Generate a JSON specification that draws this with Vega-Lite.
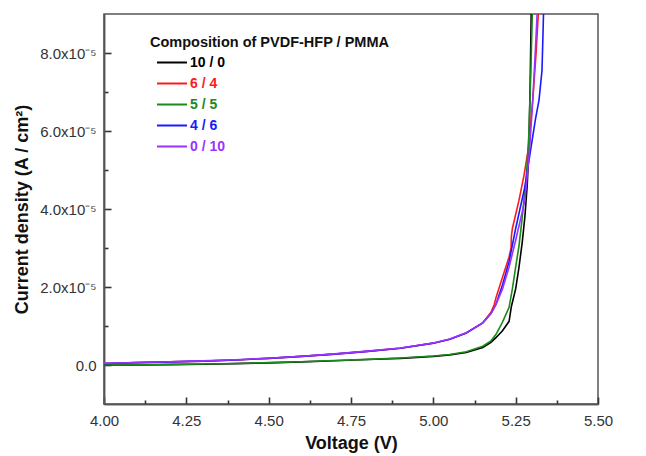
{
  "$schema": "https://vega.github.io/schema/vega-lite/v6.json",
  "width": 494,
  "height": 390,
  "autosize": {"type": "none"},
  "padding": {"left": 104, "top": 14, "right": 48, "bottom": 52},
  "config": {
    "view": {"stroke": "#555555", "strokeWidth": 1.5}
  },
  "data": {"values": [
    {"c": "10 / 0", "V": 4.00, "J": 0.0},
    {"c": "10 / 0", "V": 4.10, "J": 0.0},
    {"c": "10 / 0", "V": 4.20, "J": 0.01e-5},
    {"c": "10 / 0", "V": 4.30, "J": 0.02e-5},
    {"c": "10 / 0", "V": 4.40, "J": 0.035e-5},
    {"c": "10 / 0", "V": 4.50, "J": 0.055e-5},
    {"c": "10 / 0", "V": 4.60, "J": 0.08e-5},
    {"c": "10 / 0", "V": 4.70, "J": 0.11e-5},
    {"c": "10 / 0", "V": 4.80, "J": 0.14e-5},
    {"c": "10 / 0", "V": 4.90, "J": 0.17e-5},
    {"c": "10 / 0", "V": 5.00, "J": 0.22e-5},
    {"c": "10 / 0", "V": 5.05, "J": 0.26e-5},
    {"c": "10 / 0", "V": 5.10, "J": 0.32e-5},
    {"c": "10 / 0", "V": 5.15, "J": 0.45e-5},
    {"c": "10 / 0", "V": 5.175, "J": 0.58e-5},
    {"c": "10 / 0", "V": 5.19, "J": 0.70e-5},
    {"c": "10 / 0", "V": 5.21, "J": 0.88e-5},
    {"c": "10 / 0", "V": 5.23, "J": 1.12e-5},
    {"c": "10 / 0", "V": 5.237, "J": 1.50e-5},
    {"c": "10 / 0", "V": 5.25, "J": 1.95e-5},
    {"c": "10 / 0", "V": 5.26, "J": 2.5e-5},
    {"c": "10 / 0", "V": 5.27, "J": 3.15e-5},
    {"c": "10 / 0", "V": 5.278, "J": 3.8e-5},
    {"c": "10 / 0", "V": 5.285, "J": 4.6e-5},
    {"c": "10 / 0", "V": 5.29, "J": 5.5e-5},
    {"c": "10 / 0", "V": 5.294, "J": 7.2e-5},
    {"c": "10 / 0", "V": 5.298, "J": 9.5e-5},

    {"c": "6 / 4", "V": 4.00, "J": 0.04e-5},
    {"c": "6 / 4", "V": 4.10, "J": 0.06e-5},
    {"c": "6 / 4", "V": 4.20, "J": 0.08e-5},
    {"c": "6 / 4", "V": 4.30, "J": 0.10e-5},
    {"c": "6 / 4", "V": 4.40, "J": 0.13e-5},
    {"c": "6 / 4", "V": 4.50, "J": 0.17e-5},
    {"c": "6 / 4", "V": 4.60, "J": 0.22e-5},
    {"c": "6 / 4", "V": 4.70, "J": 0.28e-5},
    {"c": "6 / 4", "V": 4.80, "J": 0.35e-5},
    {"c": "6 / 4", "V": 4.90, "J": 0.43e-5},
    {"c": "6 / 4", "V": 5.00, "J": 0.56e-5},
    {"c": "6 / 4", "V": 5.05, "J": 0.66e-5},
    {"c": "6 / 4", "V": 5.10, "J": 0.82e-5},
    {"c": "6 / 4", "V": 5.15, "J": 1.08e-5},
    {"c": "6 / 4", "V": 5.175, "J": 1.35e-5},
    {"c": "6 / 4", "V": 5.185, "J": 1.55e-5},
    {"c": "6 / 4", "V": 5.19, "J": 1.72e-5},
    {"c": "6 / 4", "V": 5.21, "J": 2.25e-5},
    {"c": "6 / 4", "V": 5.23, "J": 2.77e-5},
    {"c": "6 / 4", "V": 5.236, "J": 3.0e-5},
    {"c": "6 / 4", "V": 5.237, "J": 3.3e-5},
    {"c": "6 / 4", "V": 5.24, "J": 3.5e-5},
    {"c": "6 / 4", "V": 5.26, "J": 4.22e-5},
    {"c": "6 / 4", "V": 5.275, "J": 4.85e-5},
    {"c": "6 / 4", "V": 5.288, "J": 5.51e-5},
    {"c": "6 / 4", "V": 5.302, "J": 6.8e-5},
    {"c": "6 / 4", "V": 5.312, "J": 8.0e-5},
    {"c": "6 / 4", "V": 5.322, "J": 9.5e-5},

    {"c": "5 / 5", "V": 4.00, "J": 0.0},
    {"c": "5 / 5", "V": 4.10, "J": 0.005e-5},
    {"c": "5 / 5", "V": 4.20, "J": 0.015e-5},
    {"c": "5 / 5", "V": 4.30, "J": 0.025e-5},
    {"c": "5 / 5", "V": 4.40, "J": 0.04e-5},
    {"c": "5 / 5", "V": 4.50, "J": 0.06e-5},
    {"c": "5 / 5", "V": 4.60, "J": 0.085e-5},
    {"c": "5 / 5", "V": 4.70, "J": 0.115e-5},
    {"c": "5 / 5", "V": 4.80, "J": 0.145e-5},
    {"c": "5 / 5", "V": 4.90, "J": 0.18e-5},
    {"c": "5 / 5", "V": 5.00, "J": 0.23e-5},
    {"c": "5 / 5", "V": 5.05, "J": 0.27e-5},
    {"c": "5 / 5", "V": 5.10, "J": 0.34e-5},
    {"c": "5 / 5", "V": 5.15, "J": 0.48e-5},
    {"c": "5 / 5", "V": 5.175, "J": 0.62e-5},
    {"c": "5 / 5", "V": 5.19, "J": 0.78e-5},
    {"c": "5 / 5", "V": 5.21, "J": 1.10e-5},
    {"c": "5 / 5", "V": 5.23, "J": 1.48e-5},
    {"c": "5 / 5", "V": 5.24, "J": 1.95e-5},
    {"c": "5 / 5", "V": 5.25, "J": 2.51e-5},
    {"c": "5 / 5", "V": 5.26, "J": 3.05e-5},
    {"c": "5 / 5", "V": 5.269, "J": 3.71e-5},
    {"c": "5 / 5", "V": 5.283, "J": 4.9e-5},
    {"c": "5 / 5", "V": 5.29, "J": 5.9e-5},
    {"c": "5 / 5", "V": 5.296, "J": 7.5e-5},
    {"c": "5 / 5", "V": 5.302, "J": 9.5e-5},

    {"c": "4 / 6", "V": 4.00, "J": 0.04e-5},
    {"c": "4 / 6", "V": 4.10, "J": 0.06e-5},
    {"c": "4 / 6", "V": 4.20, "J": 0.08e-5},
    {"c": "4 / 6", "V": 4.30, "J": 0.10e-5},
    {"c": "4 / 6", "V": 4.40, "J": 0.13e-5},
    {"c": "4 / 6", "V": 4.50, "J": 0.17e-5},
    {"c": "4 / 6", "V": 4.60, "J": 0.22e-5},
    {"c": "4 / 6", "V": 4.70, "J": 0.28e-5},
    {"c": "4 / 6", "V": 4.80, "J": 0.35e-5},
    {"c": "4 / 6", "V": 4.90, "J": 0.43e-5},
    {"c": "4 / 6", "V": 5.00, "J": 0.56e-5},
    {"c": "4 / 6", "V": 5.05, "J": 0.66e-5},
    {"c": "4 / 6", "V": 5.10, "J": 0.82e-5},
    {"c": "4 / 6", "V": 5.15, "J": 1.08e-5},
    {"c": "4 / 6", "V": 5.175, "J": 1.32e-5},
    {"c": "4 / 6", "V": 5.19, "J": 1.55e-5},
    {"c": "4 / 6", "V": 5.21, "J": 2.05e-5},
    {"c": "4 / 6", "V": 5.23, "J": 2.65e-5},
    {"c": "4 / 6", "V": 5.25, "J": 3.5e-5},
    {"c": "4 / 6", "V": 5.278, "J": 4.57e-5},
    {"c": "4 / 6", "V": 5.297, "J": 5.6e-5},
    {"c": "4 / 6", "V": 5.31, "J": 6.3e-5},
    {"c": "4 / 6", "V": 5.321, "J": 6.8e-5},
    {"c": "4 / 6", "V": 5.33, "J": 7.56e-5},
    {"c": "4 / 6", "V": 5.333, "J": 8.5e-5},
    {"c": "4 / 6", "V": 5.336, "J": 9.5e-5},

    {"c": "0 / 10", "V": 4.00, "J": 0.045e-5},
    {"c": "0 / 10", "V": 4.10, "J": 0.065e-5},
    {"c": "0 / 10", "V": 4.20, "J": 0.085e-5},
    {"c": "0 / 10", "V": 4.30, "J": 0.105e-5},
    {"c": "0 / 10", "V": 4.40, "J": 0.135e-5},
    {"c": "0 / 10", "V": 4.50, "J": 0.175e-5},
    {"c": "0 / 10", "V": 4.60, "J": 0.225e-5},
    {"c": "0 / 10", "V": 4.70, "J": 0.285e-5},
    {"c": "0 / 10", "V": 4.80, "J": 0.355e-5},
    {"c": "0 / 10", "V": 4.90, "J": 0.435e-5},
    {"c": "0 / 10", "V": 5.00, "J": 0.565e-5},
    {"c": "0 / 10", "V": 5.05, "J": 0.665e-5},
    {"c": "0 / 10", "V": 5.10, "J": 0.825e-5},
    {"c": "0 / 10", "V": 5.15, "J": 1.08e-5},
    {"c": "0 / 10", "V": 5.175, "J": 1.32e-5},
    {"c": "0 / 10", "V": 5.19, "J": 1.55e-5},
    {"c": "0 / 10", "V": 5.21, "J": 1.95e-5},
    {"c": "0 / 10", "V": 5.23, "J": 2.51e-5},
    {"c": "0 / 10", "V": 5.25, "J": 3.2e-5},
    {"c": "0 / 10", "V": 5.278, "J": 4.22e-5},
    {"c": "0 / 10", "V": 5.292, "J": 5.5e-5},
    {"c": "0 / 10", "V": 5.302, "J": 6.8e-5},
    {"c": "0 / 10", "V": 5.310, "J": 8.1e-5},
    {"c": "0 / 10", "V": 5.318, "J": 9.5e-5}
  ]},
  "layer": [
    {
      "mark": {"type": "line", "strokeWidth": 1.6, "clip": true},
      "encoding": {
        "x": {
          "field": "V", "type": "quantitative",
          "scale": {"domain": [4, 5.5], "nice": false, "zero": false},
          "axis": {
            "orient": "bottom",
            "title": "Voltage (V)",
            "titleFont": "Liberation Sans", "titleFontSize": 18, "titleFontWeight": "bold", "titleColor": "#111111",
            "values": [4, 4.25, 4.5, 4.75, 5, 5.25, 5.5],
            "format": ".2f",
            "grid": false,
            "domain": true, "domainColor": "#555555", "domainWidth": 1.5,
            "tickSize": -7, "tickColor": "#333333", "tickWidth": 1.6,
            "labelFont": "Liberation Sans", "labelFontSize": 15, "labelColor": "#333333",
            "labelPadding": 16,
            "labelFlush": false,
            "titlePadding": 6
          }
        },
        "y": {
          "field": "J", "type": "quantitative",
          "scale": {"domain": [-1e-5, 9e-5], "nice": false, "zero": false},
          "axis": {
            "orient": "left",
            "title": "Current density  (A / cm²)",
            "titleFont": "Liberation Sans", "titleFontSize": 18, "titleFontWeight": "bold", "titleColor": "#111111",
            "values": [0, 2e-5, 4e-5, 6e-5, 8e-5],
            "labelExpr": "round(datum.value*1e5) == 0 ? '0.0' : format(datum.value*1e5, '.1f') + 'x10⁻⁵'",
            "grid": false,
            "domain": true, "domainColor": "#555555", "domainWidth": 1.5,
            "tickSize": -7, "tickColor": "#333333", "tickWidth": 1.6,
            "labelFont": "Liberation Sans", "labelFontSize": 15, "labelColor": "#333333",
            "labelPadding": 15,
            "titlePadding": 8
          }
        },
        "color": {
          "field": "c", "type": "nominal",
          "scale": {"domain": ["10 / 0", "6 / 4", "5 / 5", "4 / 6", "0 / 10"], "range": ["#000000", "#ff1a1a", "#1a8a1a", "#1a1aff", "#9933ff"]},
          "legend": {
            "title": "Composition of PVDF-HFP / PMMA",
            "orient": "none",
            "legendX": 46,
            "legendY": 22,
            "titleFont": "Liberation Sans",
            "titleFontSize": 14.5,
            "titleFontWeight": "bold",
            "titleColor": "#111111",
            "titleLimit": 400,
            "titlePadding": 5,
            "labelFont": "Liberation Sans",
            "labelFontSize": 14,
            "labelFontWeight": "bold",
            "labelOffset": 26,
            "symbolType": "M0,0H6",
            "symbolSize": 100,
            "symbolStrokeWidth": 2,
            "rowPadding": 7,
            "encode": {"labels": {"update": {"fill": {"scale": "color", "field": "value"}}}}
          }
        }
      }
    },
    {
      "mark": {"type": "line", "strokeOpacity": 0, "clip": true},
      "encoding": {
        "x": {
          "field": "V", "type": "quantitative",
          "axis": {
            "orient": "bottom",
            "title": null,
            "labels": false,
            "grid": false,
            "domain": true, "domainColor": "#555555", "domainWidth": 1.5,
            "values": [4.125, 4.375, 4.625, 4.875, 5.125, 5.375],
            "tickSize": -4, "tickColor": "#333333", "tickWidth": 1.6
          }
        },
        "y": {
          "field": "J", "type": "quantitative",
          "axis": {
            "orient": "left",
            "title": null,
            "labels": false,
            "grid": false,
            "domain": true, "domainColor": "#555555", "domainWidth": 1.5,
            "values": [1e-5, 3e-5, 5e-5, 7e-5],
            "tickSize": -4, "tickColor": "#333333", "tickWidth": 1.6
          }
        },
        "detail": {"field": "c", "type": "nominal"}
      }
    }
  ],
  "resolve": {"axis": {"x": "independent", "y": "independent"}}
}
